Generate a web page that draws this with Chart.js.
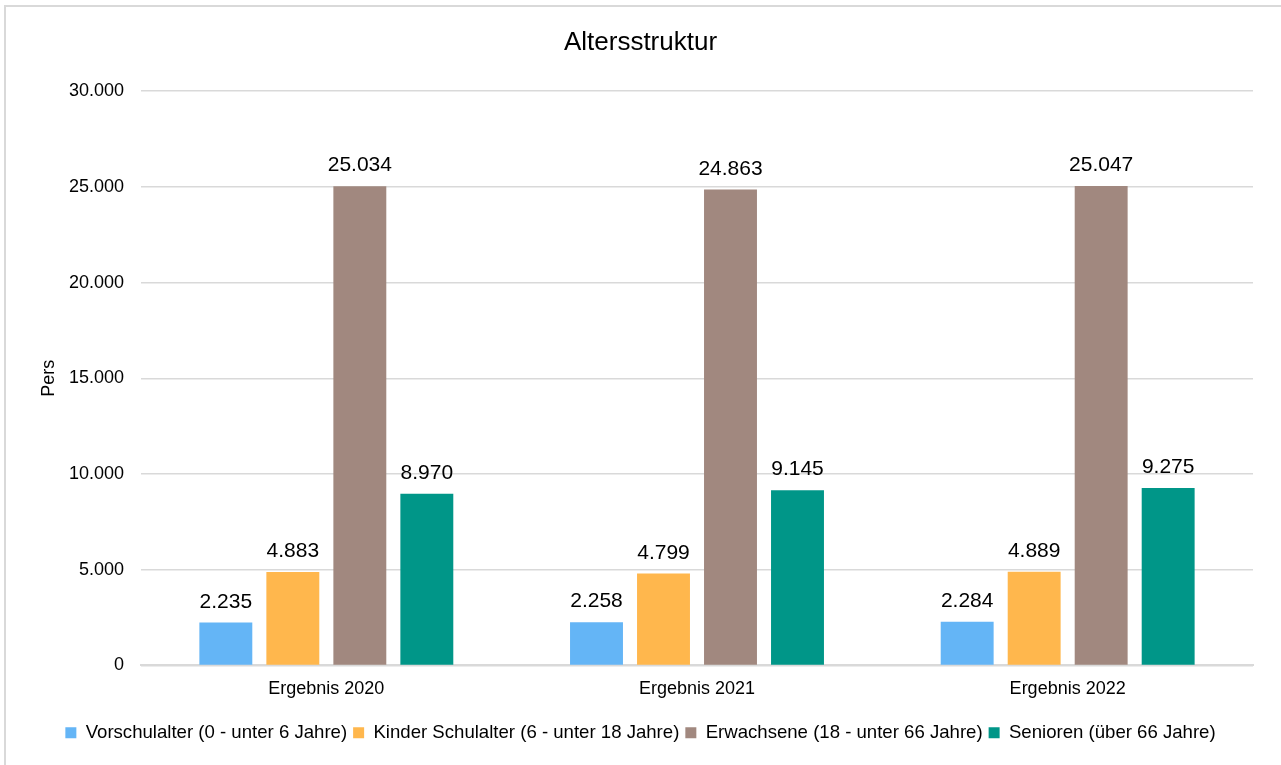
<!DOCTYPE html>
<html>
<head>
<meta charset="utf-8">
<script src="https://cdn.jsdelivr.net/npm/chart.js@4.4.0/dist/chart.umd.min.js"></script>
<style>
  html, body { margin: 0; padding: 0; background: #fff; }
  #frame { position: absolute; left: 4px; top: 5px; width: 1300px; height: 800px; border: 2px solid #d9d9d9; }
  #wrap { position: absolute; left: 0; top: 0; width: 1281px; height: 765px; }
</style>
</head>
<body>
<div id="frame"></div>
<div id="wrap"><canvas id="barChart"></canvas></div>
<script>
var categories = ['Ergebnis 2020', 'Ergebnis 2021', 'Ergebnis 2022'];
var seriesNames = [
  'Vorschulalter (0 - unter 6 Jahre)',
  'Kinder Schulalter (6 - unter 18 Jahre)',
  'Erwachsene (18 - unter 66 Jahre)',
  'Senioren (über 66 Jahre)'
];
var vorschule = [2235, 2258, 2284];
var schulalter = [4883, 4799, 4889];
var erwachsene = [25034, 24863, 25047];
var senioren = [8970, 9145, 9275];
var colors = ['#64B5F6', '#FFB74D', '#A1887F', '#009688'];

var fmt = new Intl.NumberFormat('de-DE');
var fontFamily = '"Liberation Sans", Arial, sans-serif';

// Werte über den Balken
var valueLabels = {
  id: 'valueLabels',
  afterDatasetsDraw: function(chart) {
    var ctx = chart.ctx;
    ctx.save();
    ctx.font = '21px ' + fontFamily;
    ctx.fillStyle = '#000';
    ctx.textAlign = 'center';
    ctx.textBaseline = 'alphabetic';
    chart.data.datasets.forEach(function(ds, i) {
      chart.getDatasetMeta(i).data.forEach(function(bar, j) {
        ctx.fillText(fmt.format(ds.data[j]), bar.x, bar.y - 15);
      });
    });
    ctx.restore();
  }
};

var allSeries = [vorschule, schulalter, erwachsene, senioren];
var datasets = [];
for (var i = 0; i < allSeries.length; i++) {
  datasets.push({
    label: seriesNames[i],
    data: allSeries[i],
    backgroundColor: colors[i],
    categoryPercentage: 0.723,
    barPercentage: 0.79
  });
}

var ctx = document.getElementById('barChart');
new Chart(ctx, {
  type: 'bar',
  data: { labels: categories, datasets: datasets },
  plugins: [valueLabels],
  options: {
    responsive: true,
    maintainAspectRatio: false,
    animation: false,
    layout: { padding: { left: 28, right: 28, top: 10, bottom: 13 } },
    plugins: {
      title: {
        display: true,
        text: 'Altersstruktur',
        color: '#000',
        font: { family: fontFamily, size: 26, weight: 'normal' },
        padding: { top: 17, bottom: 33 }
      },
      legend: {
        position: 'bottom',
        labels: {
          color: '#000',
          boxWidth: 11,
          boxHeight: 11,
          padding: 6,
          font: { family: fontFamily, size: 18.6 }
        }
      },
      tooltip: { enabled: false }
    },
    scales: {
      x: {
        grid: { display: false, drawTicks: false },
        border: { color: '#d9d9d9', width: 2 },
        ticks: {
          color: '#000',
          padding: 13,
          font: { family: fontFamily, size: 18 }
        },
        afterFit: function(scale) { scale.height = 52; }
      },
      y: {
        min: 0,
        max: 30000,
        ticks: {
          stepSize: 5000,
          color: '#000',
          padding: 17,
          font: { family: fontFamily, size: 18 },
          callback: function(v) { return fmt.format(v); }
        },
        grid: { color: '#d9d9d9', lineWidth: 1.5, drawTicks: false },
        border: { display: false },
        title: {
          display: true,
          text: 'Pers',
          color: '#000',
          font: { family: fontFamily, size: 18 },
          padding: { top: 10, bottom: 0 }
        },
        afterFit: function(scale) { scale.width = 113; }
      }
    }
  }
});
</script>
</body>
</html>
